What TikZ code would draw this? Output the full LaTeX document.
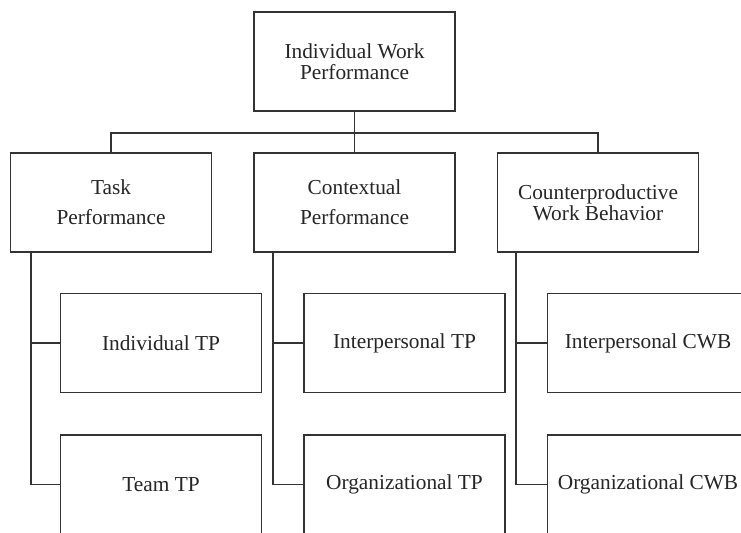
\documentclass[tikz,border=0pt]{standalone}
\usepackage{fontspec}
\setmainfont{Liberation Serif}

\tikzset{every picture/.style={line width=1.4pt}}
\tikzset{
  box/.style={draw=black!80, fill=white, minimum width=150.75pt, minimum height=74.25pt,
    inner sep=0pt, align=center, text=black!85,
    font=\fontsize{16}{15.75}\selectfont},
  link/.style={draw=black!80}
}

\begin{document}
\begin{tikzpicture}[x=0.75pt,y=0.75pt,yscale=-1,xscale=1]
\useasboundingbox (0,0) rectangle (741,532);
\clip (0,0) rectangle (741,532);

% Top level
\node [box] (iwp) at (354.5,61.5) {Individual Work\\Performance};

% Dimensions
\node [box] (task) at (111,202.5) {Task\\[7pt]Performance};
\node [box] (ctx) at (354.5,202.5) {Contextual\\[7pt]Performance};
\node [box] (cwb) at (598,202.5) {Counterproductive\\Work Behavior};

% Sub dimensions
\node [box] (indtp) at (161,343) {Individual TP};
\node [box] (teamtp) at (161,484.5) {Team TP};
\node [box] (intctx) at (404.5,343) {Interpersonal TP};
\node [box] (orgctx) at (404.5,484.5) {Organizational TP};
\node [box] (intcwb) at (648,343) {Interpersonal CWB};
\node [box] (orgcwb) at (648,484.5) {Organizational CWB};

% Bus to the dimensions
\coordinate (bus) at (354.5,133);
\draw [link] (iwp.south) -- (ctx.north);
\draw [link] (task.north) -- (task.north |- bus) -- (cwb.north |- bus) -- (cwb.north);

% Trunks to the sub dimensions
\draw [link] ([xshift=15.75pt]task.south west) |- (indtp.west);
\draw [link] ([xshift=15.75pt]task.south west) |- (teamtp.west);
\draw [link] ([xshift=15pt]ctx.south west) |- (intctx.west);
\draw [link] ([xshift=15pt]ctx.south west) |- (orgctx.west);
\draw [link] ([xshift=14.25pt]cwb.south west) |- (intcwb.west);
\draw [link] ([xshift=14.25pt]cwb.south west) |- (orgcwb.west);

\end{tikzpicture}
\end{document}
